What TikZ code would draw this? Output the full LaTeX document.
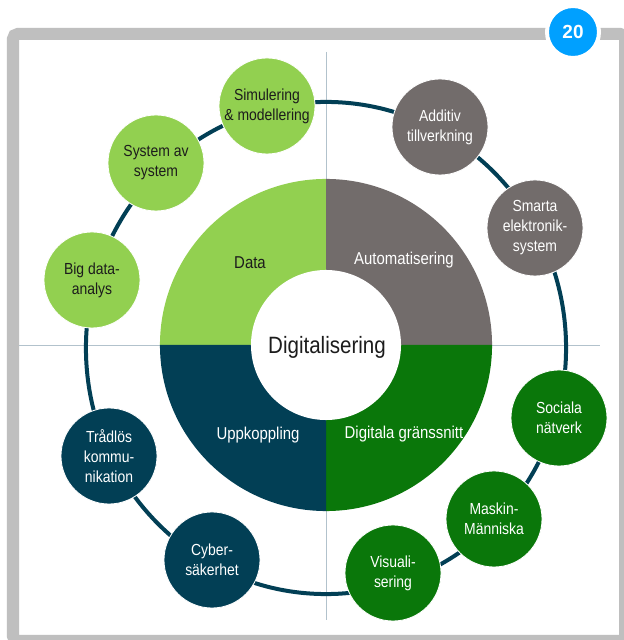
\documentclass[tikz,border=0pt]{standalone}
\usepackage{fontspec}
\setmainfont{Liberation Sans}[FakeStretch=0.87]
\newfontfamily\badgefont{Liberation Sans}
\usepackage{tikz}
\definecolor{datagreen}{RGB}{146, 208, 80}
\definecolor{autogray}{RGB}{114, 108, 107}
\definecolor{linkblue}{RGB}{2, 63, 85}
\definecolor{ifacegreen}{RGB}{10, 119, 10}
\definecolor{framegray}{RGB}{191, 191, 191}
\definecolor{badgeblue}{RGB}{0, 160, 255}
\definecolor{axisgray}{RGB}{178, 194, 204}
\definecolor{darktext}{RGB}{28, 28, 28}

\tikzset{
    satellite/.style={circle, minimum size=2.4cm, inner sep=0pt, align=center,
        draw=white, line width=0.6pt, font=\fontsize{11.4}{14.2}\selectfont},
    quadlabel/.style={font=\fontsize{12.2}{15}\selectfont}
}

\begin{document}
\begin{tikzpicture}[x=0.025cm, y=0.025cm]
        \clip (0,0) rectangle (624,640);
        \fill[white] (0,0) rectangle (624,640);

        % Frame
        \draw[framegray, line width=0.3cm, rounded corners=0.12cm] (13,-1) rectangle (625,606);

        % Cross lines
        \coordinate (c) at (326,295);
        \draw[axisgray, line width=0.7pt] (326,588) -- (326,20);
        \draw[axisgray, line width=0.7pt] (19,295) -- (600,295);

        % Outer ring
        \draw[linkblue, line width=0.1cm] (326,292) ellipse[x radius=6cm, y radius=6.15cm];

        % Quadrants
        \fill[datagreen] (c) -- ++(90:4.15cm) arc[start angle=90, end angle=180, radius=4.15cm] -- cycle;
        \fill[autogray] (c) -- ++(0:4.15cm) arc[start angle=0, end angle=90, radius=4.15cm] -- cycle;
        \fill[ifacegreen] (c) -- ++(270:4.15cm) arc[start angle=270, end angle=360, radius=4.15cm] -- cycle;
        \fill[linkblue] (c) -- ++(180:4.15cm) arc[start angle=180, end angle=270, radius=4.15cm] -- cycle;
        \fill[white] (c) circle[radius=1.875cm];

        \node[quadlabel, text=darktext] (data) at (250,377) {Data};
        \node[quadlabel, text=white] (auto) at (404,380) {Automatisering};
        \node[quadlabel, text=white] (link) at (258,205) {Uppkoppling};
        \node[quadlabel, text=white] (iface) at (404,206) {Digitala gränssnitt};
        \node[text=darktext, font=\fontsize{16.8}{20}\selectfont] (digi) at (327,293) {Digitalisering};

        % Satellites
        \node[satellite, fill=datagreen, text=darktext] (sim) at (267,534) {Simulering\\\& modellering};
        \node[satellite, fill=datagreen, text=darktext] (sys) at (156,477) {System av\\system};
        \node[satellite, fill=datagreen, text=darktext] (big) at (92,360) {Big data-\\analys};
        \node[satellite, fill=autogray, text=white] (add) at (440,513) {Additiv\\tillverkning};
        \node[satellite, fill=autogray, text=white] (smart) at (535,412) {Smarta\\elektronik-\\system};
        \node[satellite, fill=ifacegreen, text=white] (soc) at (559,222) {Sociala\\nätverk};
        \node[satellite, fill=ifacegreen, text=white] (mask) at (494,121) {Maskin-\\Människa};
        \node[satellite, fill=ifacegreen, text=white] (vis) at (393,67) {Visuali-\\sering};
        \node[satellite, fill=linkblue, text=white] (cyb) at (212,80) {Cyber-\\säkerhet};
        \node[satellite, fill=linkblue, text=white] (wire) at (109,184) {Trådlös\\kommu-\\nikation};

        % Page badge
        \node[circle, fill=badgeblue, draw=white, line width=0.1cm, minimum size=1.3cm, inner sep=0pt,
            text=white, font=\badgefont\bfseries\fontsize{13.5}{16}\selectfont] (badge) at (573,608) {20};
    \end{tikzpicture}
\end{document}
